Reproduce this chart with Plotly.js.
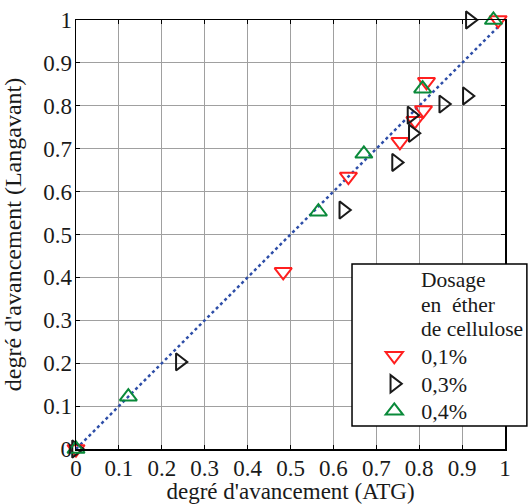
<!DOCTYPE html>
<html>
<head>
<meta charset="utf-8">
<script src="https://cdn.plot.ly/plotly-3.0.1.min.js"></script>
<style>html,body{margin:0;padding:0;background:#fff;}#chart{width:528px;height:504px;}</style>
</head>
<body>
<div id="chart"></div>
<script>
// Dosage en éther de cellulose 0,1%
const x01 = [0, 0.483, 0.635, 0.755, 0.79, 0.81, 0.817, 0.984];
const y01 = [0, 0.413, 0.635, 0.716, 0.765, 0.79, 0.856, 1.0];
// 0,3%
const x03 = [0, 0.242, 0.623, 0.746, 0.785, 0.782, 0.856, 0.911, 0.918];
const y03 = [0, 0.203, 0.557, 0.668, 0.736, 0.778, 0.804, 0.823, 1.0];
// 0,4%
const x04 = [0, 0.122, 0.565, 0.671, 0.808, 0.973];
const y04 = [0, 0.122, 0.553, 0.688, 0.84, 1.0];
// reference line y = x
const diagX = [0, 1];
const diagY = [0, 1];
const seriesNames = ['0,1%', '0,3%', '0,4%'];
const legendTitleLines = ['Dosage', 'en  éther', 'de cellulose'];
const xTitle = "degré d'avancement (ATG)";
const yTitle = "degré d'avancement (Langavant)";

const FONT = 'Liberation Serif, Times New Roman, serif';
const MS = 15;

const traces = [
  {x: diagX, y: diagY, mode: 'lines', showlegend: false, hoverinfo: 'skip',
   line: {color: '#2f4fa8', width: 2.5, dash: 'dot'}},
  {x: x01, y: y01, mode: 'markers', name: seriesNames[0], cliponaxis: false, legend: 'legend',
   marker: {symbol: 'triangle-down-open', size: MS, color: '#ff1f1f', line: {width: 2, color: '#ff1f1f'}}},
  {x: x03, y: y03, mode: 'markers', name: seriesNames[1], cliponaxis: false, legend: 'legend2',
   marker: {symbol: 'triangle-right-open', size: MS, color: '#1a1a1a', line: {width: 2, color: '#1a1a1a'}}},
  {x: x04, y: y04, mode: 'markers', name: seriesNames[2], cliponaxis: false, legend: 'legend3',
   marker: {symbol: 'triangle-up-open', size: MS, color: '#0a8a3a', line: {width: 2, color: '#0a8a3a'}}}
];

const axisCommon = {
  range: [0, 1], dtick: 0.1, tick0: 0,
  showgrid: true, gridcolor: '#a0a0a0', gridwidth: 1,
  zeroline: false, showline: true, linecolor: '#000', linewidth: 1.5, mirror: 'ticks',
  ticks: 'inside', ticklen: 4, tickcolor: '#000',
  tickfont: {family: FONT, size: 23, color: '#1a1a1a'},
  fixedrange: true
};

function leg(y) {
  return {x: 0.679, xanchor: 'left', y: y, yanchor: 'middle',
    bgcolor: 'rgba(0,0,0,0)', borderwidth: 0, itemwidth: 44,
    font: {family: FONT, size: 22, color: '#1a1a1a'}};
}

const titleY = [0.393, 0.3347, 0.2788];
const annotations = legendTitleLines.map((t, i) => ({
  xref: 'paper', yref: 'paper', x: 0.7995, y: titleY[i], xanchor: 'left', yanchor: 'middle',
  align: 'left', showarrow: false, text: t, font: {family: FONT, size: 21.5, color: '#1a1a1a'}
}));

const layout = {
  width: 528, height: 504,
  margin: {l: 76, r: 23, t: 20, b: 55},
  paper_bgcolor: '#fff', plot_bgcolor: '#fff',
  font: {family: FONT, color: '#1a1a1a'},
  xaxis: Object.assign({}, axisCommon, {ticklabelstandoff: -2,
    title: {text: xTitle, font: {family: FONT, size: 23}}}),
  yaxis: Object.assign({}, axisCommon, {ticklabelstandoff: -2,
    title: {text: yTitle, font: {family: FONT, size: 24}}}),
  showlegend: true,
  legend: leg(0.2168),
  legend2: leg(0.1515),
  legend3: leg(0.0886),
  shapes: [{type: 'rect', xref: 'paper', yref: 'paper', x0: 0.6434, x1: 1.051, y0: 0.0536, y1: 0.4312,
    line: {color: '#000', width: 1.5}, fillcolor: '#fff', layer: 'above'}],
  annotations: annotations
};

Plotly.newPlot('chart', traces, layout, {displayModeBar: false, staticPlot: true});
</script>
</body>
</html>
